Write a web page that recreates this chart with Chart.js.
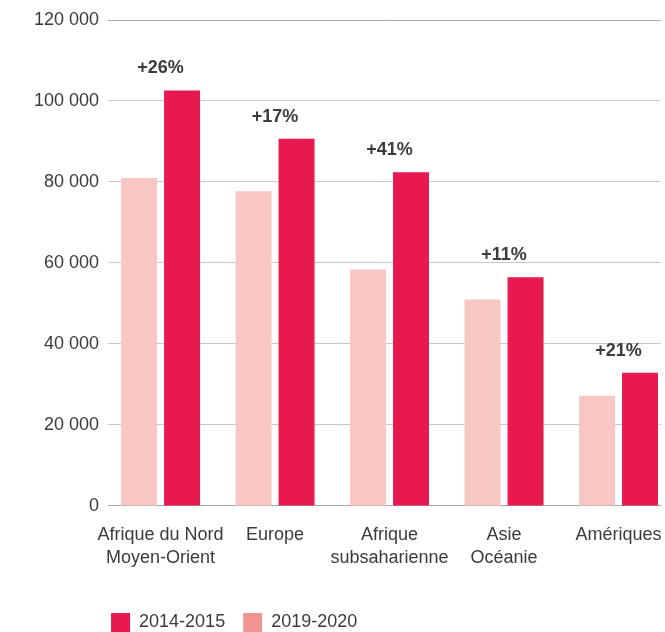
<!DOCTYPE html>
<html lang="fr">
<head>
<meta charset="utf-8">
<title>Régions</title>
<script src="https://cdn.jsdelivr.net/npm/chart.js@4/dist/chart.umd.min.js"></script>
<style>
  html, body { margin: 0; padding: 0; background: #fff; }
  #wrap { width: 665px; height: 632px; }
</style>
</head>
<body>
<div id="wrap"><canvas id="chart"></canvas></div>
<script>
  "use strict";

  const regions = [
    ["Afrique du Nord", "Moyen-Orient"],
    ["Europe"],
    ["Afrique", "subsaharienne"],
    ["Asie", "Océanie"],
    ["Amériques"]
  ];
  const values2019 = [81000, 77700, 58400, 51000, 27200];
  const values2014 = [102600, 90700, 82400, 56500, 32900];
  const changes = ["+26%", "+17%", "+41%", "+11%", "+21%"];
  const yTicks = [0, 20000, 40000, 60000, 80000, 100000, 120000];

  const FONT = "'Liberation Sans', Arial, Helvetica, sans-serif";
  const TEXT = "#3b3b3b";
  const DARK = "#e8194f";
  const LIGHT = "#f8c7c4";
  const LIGHT_LEGEND = "#f09491";

  function fmt(v) {
    return String(v).replace(/\B(?=(\d{3})+(?!\d))/g, " ");
  }

  // labels "+xx%" centered over each group
  const changeLabels = {
    id: "changeLabels",
    afterDatasetsDraw(chart) {
      const ctx = chart.ctx;
      const xScale = chart.scales.x;
      const a = chart.getDatasetMeta(0).data;
      const b = chart.getDatasetMeta(1).data;
      ctx.save();
      ctx.font = "bold 18px " + FONT;
      ctx.fillStyle = TEXT;
      ctx.textAlign = "center";
      ctx.textBaseline = "middle";
      changes.forEach(function (txt, i) {
        const top = Math.min(a[i].y, b[i].y);
        ctx.fillText(txt, xScale.getPixelForValue(i), top - 22);
      });
      ctx.restore();
    }
  };

  // legend starts under the plot's left edge, at the bottom
  const legendPlace = {
    id: "legendPlace",
    afterLayout(chart) {
      const lg = chart.legend;
      const pad = lg.options.labels.padding;
      lg.left = chart.chartArea.left + 3 - pad;
      lg.right = chart.width;
      lg.top = chart.height - 19 - pad;
      lg.bottom = chart.height;
    }
  };

  new Chart(document.getElementById("chart"), {
    type: "bar",
    data: {
      datasets: [
        {
          label: "2019-2020",
          data: values2019.map((v, i) => ({ x: i, y: v })),
          backgroundColor: LIGHT,
          barPercentage: 0.837,
          categoryPercentage: 0.751
        },
        {
          label: "2014-2015",
          data: values2014.map((v, i) => ({ x: i, y: v })),
          backgroundColor: DARK,
          barPercentage: 0.837,
          categoryPercentage: 0.751
        }
      ]
    },
    options: {
      responsive: true,
      maintainAspectRatio: false,
      animation: false,
      layout: { padding: { top: 20, left: 25, right: 4, bottom: 4 } },
      scales: {
        x: {
          type: "linear",
          offset: false,
          min: -0.4585,
          max: 4.371,
          grid: { display: false, drawTicks: false },
          border: { display: false },
          afterBuildTicks: (axis) => { axis.ticks = regions.map((_, i) => ({ value: i })); },
          afterFit: (axis) => { axis.paddingLeft = 0; axis.paddingRight = 0; },
          ticks: {
            autoSkip: false,
            maxRotation: 0,
            padding: 18,
            color: TEXT,
            font: { family: FONT, size: 18, lineHeight: 1.28 },
            callback: (v) => regions[v]
          }
        },
        y: {
          min: 0,
          max: 120000,
          grid: {
            drawTicks: false,
            lineWidth: 1,
            color: (c) => (c.tick && (c.tick.value === 120000 || c.tick.value === 0)) ? "#a8a8ac" : "#c9c9c9"
          },
          border: { display: false },
          afterBuildTicks: (axis) => { axis.ticks = yTicks.map((v) => ({ value: v })); },
          ticks: {
            padding: 9,
            color: TEXT,
            font: { family: FONT, size: 18 },
            callback: (v) => fmt(v)
          }
        }
      },
      plugins: {
        tooltip: { enabled: false },
        legend: {
          position: "bottom",
          align: "start",
          reverse: true,
          maxHeight: 40,
          labels: {
            boxWidth: 19,
            boxHeight: 19,
            padding: 18,
            color: TEXT,
            font: { family: FONT, size: 18 },
            generateLabels: function (chart) {
              const items = Chart.defaults.plugins.legend.labels.generateLabels(chart);
              items.forEach(function (it) {
                it.fillStyle = it.datasetIndex === 0 ? LIGHT_LEGEND : DARK;
                it.strokeStyle = it.fillStyle;
                it.lineWidth = 0;
              });
              return items;
            }
          }
        }
      }
    },
    plugins: [changeLabels, legendPlace]
  });
</script>
</body>
</html>
